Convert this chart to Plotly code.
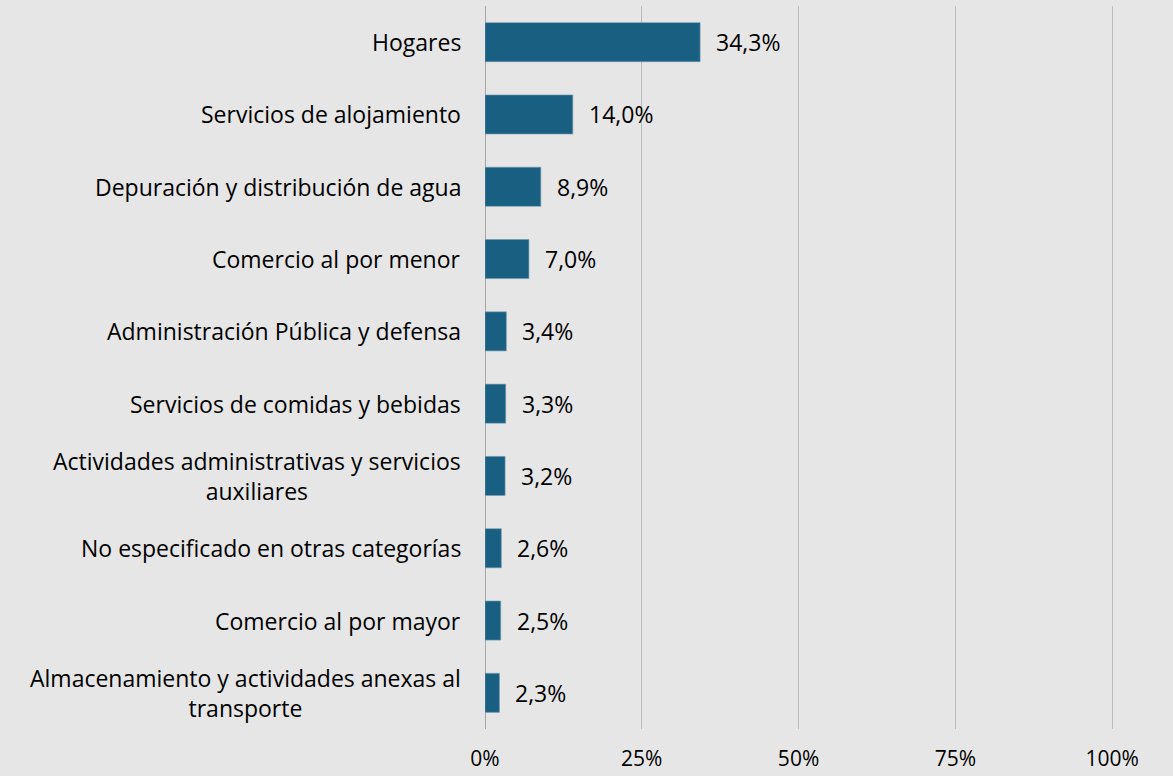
import plotly.graph_objects as go

categories = [
    "Hogares",
    "Servicios de alojamiento",
    "Depuración y distribución de agua",
    "Comercio al por menor",
    "Administración Pública y defensa",
    "Servicios de comidas y bebidas",
    "Actividades administrativas y servicios<br>auxiliares",
    "No especificado en otras categorías",
    "Comercio al por mayor",
    "Almacenamiento y actividades anexas al<br>transporte",
]
values = [34.3, 14.0, 8.9, 7.0, 3.4, 3.3, 3.2, 2.6, 2.5, 2.3]
x_ticks = [0, 25, 50, 75, 100]
x_tick_labels = ["0%", "25%", "50%", "75%", "100%"]

FONT = "Open Sans"
BAR = "#185f82"
BG = "#e6e6e6"

keys = [f"c{i}" for i in range(len(categories))]

fig = go.Figure(
    go.Bar(
        x=values,
        y=keys,
        orientation="h",
        marker=dict(color=BAR, line=dict(color="#6f97ad", width=0.6)),
        hoverinfo="skip",
    )
)

# value labels to the right of each bar
for k, v in zip(keys, values):
    fig.add_annotation(
        x=v, y=k, xref="x", yref="y",
        text=f"{v:.1f}%".replace(".", ","),
        showarrow=False, xanchor="left", xshift=14,
        font=dict(family=FONT, size=23, color="#000000"),
    )

# category labels, centred line by line, right-aligned to the axis
for k, c in zip(keys, categories):
    fig.add_annotation(
        x=0, y=k, xref="paper", yref="y",
        text=c, align="center",
        showarrow=False, xanchor="right", xshift=-22,
        font=dict(family=FONT, size=23, color="#000000"),
    )

fig.update_layout(
    width=1173, height=776,
    margin=dict(l=485, r=59, t=6, b=47),
    paper_bgcolor=BG, plot_bgcolor=BG,
    bargap=0.46,
    showlegend=False,
    font=dict(family=FONT, size=22, color="#000000"),
    xaxis=dict(
        range=[0, 100.3],
        tickvals=x_ticks, ticktext=x_tick_labels,
        showgrid=True, gridcolor="#bdbdbd", gridwidth=1,
        zeroline=True, zerolinecolor="#a6a6a6", zerolinewidth=1,
        ticklabelstandoff=15,
        tickfont=dict(family=FONT, size=21, color="#000000"),
        automargin=False,
        fixedrange=True,
    ),
    yaxis=dict(
        autorange="reversed",
        showticklabels=False,
        showgrid=False, zeroline=False,
        automargin=False,
        fixedrange=True,
    ),
)

fig.write_html("out.html")
